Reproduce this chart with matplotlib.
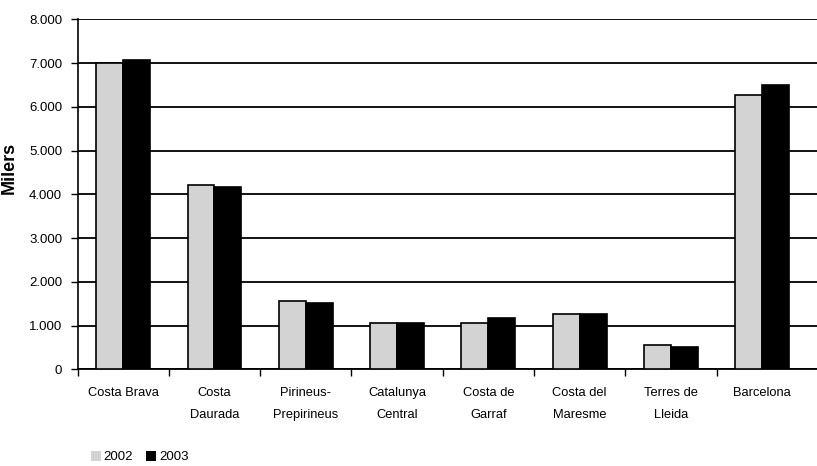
import matplotlib
matplotlib.use("Agg")
import matplotlib.pyplot as plt
import numpy as np
from matplotlib.patches import Patch

categories = ["Costa Brava", "Costa\nDaurada", "Pirineus-\nPrepirineus", "Catalunya\nCentral",
              "Costa de\nGarraf", "Costa del\nMaresme", "Terres de\nLleida", "Barcelona"]
vals_2002 = [7000, 4210, 1555, 1050, 1050, 1260, 550, 6260]
vals_2003 = [7060, 4160, 1520, 1060, 1170, 1270, 510, 6510]
series_names = ["2002", "2003"]
yticks = [0, 1000, 2000, 3000, 4000, 5000, 6000, 7000, 8000]
ytick_labels = ["0", "1.000", "2.000", "3.000", "4.000", "5.000", "6.000", "7.000", "8.000"]

font = ["Liberation Sans", "DejaVu Sans"]

fig = plt.figure(figsize=(8.17, 4.66), dpi=100)
ax = fig.add_axes([0.0949, 0.2075, 0.905, 0.751])

x = np.arange(len(categories))
w = 0.295
ax.bar(x - w / 2, vals_2002, w, color="#d3d3d3", edgecolor="black", linewidth=1.2, zorder=3)
ax.bar(x + w / 2, vals_2003, w, color="black", edgecolor="black", linewidth=1.2, zorder=3)

ax.set_xlim(-0.5, 7.6)
ax.set_ylim(0, 8000)
ax.set_yticks(yticks)
ax.set_yticklabels(ytick_labels, family=font, fontsize=9.5)
ax.yaxis.grid(True, color="black", linewidth=1.3)
ax.set_axisbelow(True)

# category labels between ticks, ticks at boundaries
ax.set_xticks(np.arange(len(categories)) - 0.5)
ax.set_xticklabels([])
ax.set_xticks(x, minor=True)
ax.set_xticklabels(categories, minor=True, family=font, fontsize=9.3, linespacing=2.1)
ax.tick_params(axis="x", which="minor", length=0, pad=13)
ax.tick_params(axis="x", which="major", length=5, width=1, direction="out")
ax.tick_params(axis="y", length=5, width=1, direction="out", pad=6)

for s in ["top", "right"]:
    ax.spines[s].set_visible(False)
ax.spines["left"].set_linewidth(1.2)
ax.spines["bottom"].set_linewidth(1.3)

ax.set_ylabel("Milers", fontsize=13, fontweight="bold", family=font)
ax.yaxis.set_label_coords(-0.081, 0.575)

handles = [Patch(facecolor="#d3d3d3", edgecolor="none"), Patch(facecolor="black", edgecolor="none")]
fig.legend(handles, series_names, loc="lower left", bbox_to_anchor=(0.097, -0.02), ncol=2, frameon=False,
           handlelength=0.75, handleheight=0.75, handletextpad=0.2, columnspacing=1.0,
           prop={"family": font, "size": 9.5})

fig.savefig("out.png", dpi=100)
